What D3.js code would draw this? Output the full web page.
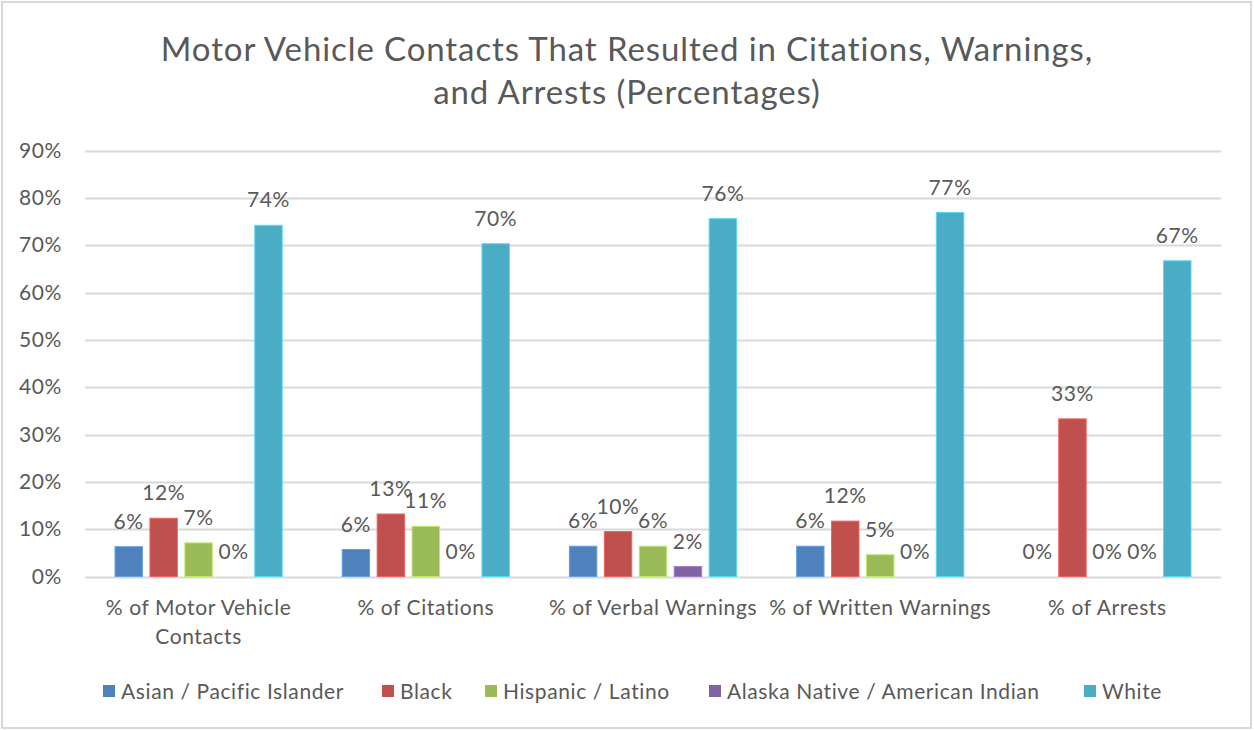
<!DOCTYPE html>
<html>
<head>
<meta charset="utf-8">
<script src="https://cdn.jsdelivr.net/npm/d3@7"></script>
<style>
  html, body { margin: 0; padding: 0; background: #fff; }
  svg { display: block; }
  text { font-family: Lato, "Open Sans", sans-serif; fill: #595959; }
</style>
</head>
<body>
<svg id="chart" width="1254" height="730"></svg>
<script>
const categories = [
  ["% of Motor Vehicle", "Contacts"],
  ["% of Citations"],
  ["% of Verbal Warnings"],
  ["% of Written Warnings"],
  ["% of Arrests"]
];
const seriesNames = ["Asian / Pacific Islander", "Black", "Hispanic / Latino", "Alaska Native / American Indian", "White"];
const seriesColors = ["#4F81BD", "#C0504D", "#9BBB59", "#8064A2", "#4BACC6"];
const asian    = [6.3, 5.7, 6.4, 6.4, 0];
const black    = [12.3, 13.2, 9.5, 11.7, 33.3];
const hispanic = [7.1, 10.6, 6.4, 4.6, 0];
const alaska   = [0, 0, 2.1, 0, 0];
const white    = [74.2, 70.3, 75.6, 76.9, 66.7];
const yTicks = [0, 10, 20, 30, 40, 50, 60, 70, 80, 90];
const titleLines = ["Motor Vehicle Contacts That Resulted in Citations, Warnings,", "and Arrests (Percentages)"];

const seriesValues = [asian, black, hispanic, alaska, white];
const svg = d3.select("#chart");
const FS = "21px";
const LS = "0.6px";

// chart border
svg.append("rect").attr("x", 2).attr("y", 2).attr("width", 1249).attr("height", 726)
  .attr("fill", "#fff").attr("stroke", "#D9D9D9").attr("stroke-width", 2);

const plot = { left: 85, right: 1221, top: 150.5, bottom: 576.5 };
const catIdx = d3.range(categories.length);

const x0 = d3.scaleBand().domain(catIdx).range([plot.left, plot.right]).padding(0);
const outer = 30;
const x1 = d3.scaleBand().domain(d3.range(seriesNames.length))
  .range([outer, x0.bandwidth() - outer]).paddingInner(0.215).paddingOuter(0);
const y = d3.scaleLinear().domain([0, 90]).range([plot.bottom, plot.top]);

// gridlines
svg.append("g").selectAll("line").data(yTicks).join("line")
  .attr("x1", plot.left).attr("x2", plot.right)
  .attr("y1", d => Math.round(y(d)) + 0.5).attr("y2", d => Math.round(y(d)) + 0.5)
  .attr("stroke", "#D9D9D9").attr("stroke-width", 2);

// y axis labels
const yAxis = d3.axisLeft(y).tickValues(yTicks).tickFormat(d => d + "%").tickSize(0).tickPadding(0);
const yg = svg.append("g").attr("transform", `translate(62,0)`).call(yAxis);
yg.select(".domain").remove();
yg.selectAll("text").style("font-family", "Lato, sans-serif").style("font-size", FS)
  .style("letter-spacing", LS).attr("fill", "#595959");

// bars
const groups = svg.append("g").selectAll("g").data(catIdx).join("g")
  .attr("transform", i => `translate(${x0(i)},0)`);

groups.selectAll("rect").data(i => seriesValues.map((s, k) => ({ k, v: s[i] })))
  .join("rect")
  .attr("x", d => x1(d.k))
  .attr("width", x1.bandwidth())
  .attr("y", d => y(d.v))
  .attr("height", d => y(0) - y(d.v))
  .attr("fill", d => seriesColors[d.k])
  .attr("stroke", d => d3.color(seriesColors[d.k]).brighter(0.6))
  .attr("stroke-width", d => d.v > 0 ? 1 : 0);

// data labels
groups.selectAll("text.lbl").data(i => seriesValues.map((s, k) => ({ k, v: s[i] })))
  .join("text").attr("class", "lbl")
  .attr("x", d => x1(d.k) + x1.bandwidth() / 2)
  .attr("y", d => y(d.v) - 18)
  .attr("text-anchor", "middle")
  .style("font-size", FS).style("letter-spacing", LS)
  .text(d => Math.round(d.v) + "%");

// category labels
const catG = svg.append("g");
catIdx.forEach(i => {
  const t = catG.append("text")
    .attr("x", x0(i) + x0.bandwidth() / 2)
    .attr("text-anchor", "middle")
    .style("font-size", FS).style("letter-spacing", LS);
  categories[i].forEach((line, j) => {
    t.append("tspan").attr("x", x0(i) + x0.bandwidth() / 2).attr("y", 615 + j * 29).text(line);
  });
});

// title
const tt = svg.append("text").attr("text-anchor", "middle").style("font-size", "33px").style("letter-spacing", "0.9px");
titleLines.forEach((l, j) => tt.append("tspan").attr("x", 627).attr("y", 61 + j * 43).text(l));

// legend
const legendX = [103, 382, 485, 709, 1084];
const lg = svg.append("g");
seriesNames.forEach((n, k) => {
  lg.append("rect").attr("x", legendX[k]).attr("y", 685).attr("width", 12).attr("height", 12).attr("fill", seriesColors[k]);
  lg.append("text").attr("x", legendX[k] + 18).attr("y", 699).style("font-size", FS).style("letter-spacing", LS).text(n);
});
</script>
</body>
</html>
